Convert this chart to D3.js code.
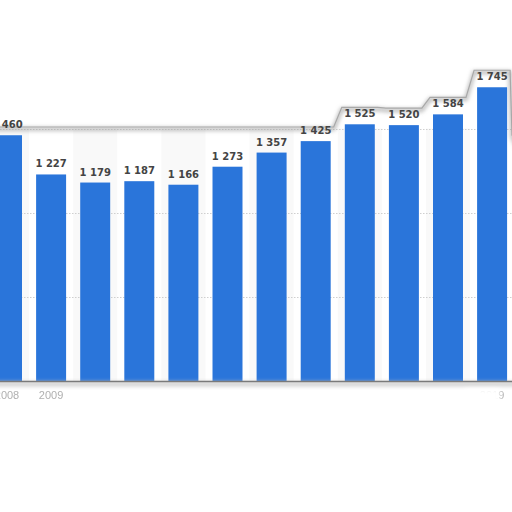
<!DOCTYPE html>
<html>
<head>
<meta charset="utf-8">
<script src="https://cdn.jsdelivr.net/npm/d3@7"></script>
<style>
  html, body { margin: 0; padding: 0; background: #ffffff; }
  svg { display: block; }
</style>
</head>
<body>
<svg id="graph" width="512" height="512"></svg>
<script>
const years = ["2008", "2009", "2010", "2011", "2012", "2013", "2014", "2015", "2016", "2017", "2018", "2019"];
const values = [1460, 1227, 1179, 1187, 1166, 1273, 1357, 1425, 1525, 1520, 1584, 1745];
const gridTicks = [500, 1000, 1500];
const shownYears = ["2008", "2009", "2019"];

const svg = d3.select("#graph");
const defs = svg.append("defs");

defs.append("filter")
    .attr("id", "soft")
    .attr("x", "-10%").attr("y", "-200%")
    .attr("width", "120%").attr("height", "500%")
    .append("feGaussianBlur")
    .attr("stdDeviation", 2);

defs.append("filter")
    .attr("id", "blurText")
    .append("feGaussianBlur")
    .attr("stdDeviation", 0.5);

const x = d3.scaleBand()
    .domain(years)
    .range([-22.1, 521.2])
    .padding(0.32);

const y = d3.scaleLinear()
    .domain([0, 1500])
    .range([381, 128.5]);

const fmt = function(v) { return d3.format(",")(v).replace(",", " "); };

// faint alternating column shading
svg.append("g")
    .selectAll("rect")
    .data(years.filter(function(d, i) { return i % 2 === 0; }))
    .join("rect")
    .attr("x", function(d) { return x(d) - x.step() * x.paddingInner() / 2; })
    .attr("y", y(1500))
    .attr("width", x.step())
    .attr("height", y(0) - y(1500))
    .style("fill", "#f9f9f9");

// dotted grid lines
svg.append("g")
    .selectAll("line")
    .data(gridTicks)
    .join("line")
    .attr("x1", 0)
    .attr("x2", 512)
    .attr("y1", function(d) { return Math.round(y(d)) + 0.5; })
    .attr("y2", function(d) { return Math.round(y(d)) + 0.5; })
    .style("stroke", "#cfcfcf")
    .style("stroke-dasharray", "1.5,1.5");

// card outline, lifted above the labels of the tallest bars
const edge = [[-10, 127]];
years.forEach(function(d, i) {
    const top = values[i] >= 1500 ? y(values[i]) - 17 : 127;
    edge.push([x(d) - 3, top]);
    edge.push([x(d) + x.bandwidth() + 3, top]);
});
edge.push([512, 135]);
edge.push([520, 150]);

const edgeLine = d3.line();

svg.append("path")
    .attr("d", edgeLine(edge))
    .attr("transform", "translate(0,2)")
    .attr("filter", "url(#soft)")
    .style("fill", "none")
    .style("stroke", "#9a9a9a")
    .style("stroke-width", 2.5);

svg.append("path")
    .attr("d", edgeLine(edge))
    .style("fill", "none")
    .style("stroke", "#a8a8a8")
    .style("stroke-width", 1.2);

// bars
svg.append("g")
    .selectAll("rect")
    .data(values)
    .join("rect")
    .attr("x", function(d, i) { return x(years[i]); })
    .attr("y", function(d) { return y(d); })
    .attr("width", x.bandwidth())
    .attr("height", function(d) { return y(0) - y(d); })
    .style("fill", "#2a75da");

// value labels
svg.append("g")
    .selectAll("text")
    .data(values)
    .join("text")
    .attr("x", function(d, i) { return x(years[i]) + x.bandwidth() / 2; })
    .attr("y", function(d) { return y(d) - 7; })
    .attr("text-anchor", "middle")
    .style("font-family", "DejaVu Sans, sans-serif")
    .style("font-weight", "bold")
    .style("font-size", "10px")
    .style("fill", "#444444")
    .text(function(d) { return fmt(d); });

// baseline with a smeared shadow below it
svg.append("rect")
    .attr("x", -10)
    .attr("y", y(0) + 1)
    .attr("width", 532)
    .attr("height", 4)
    .attr("filter", "url(#soft)")
    .style("fill", "#c8c8c8");

svg.append("line")
    .attr("x1", 0)
    .attr("x2", 512)
    .attr("y1", y(0) + 0.5)
    .attr("y2", y(0) + 0.5)
    .style("stroke", "#7a7a7a")
    .style("stroke-width", 1.5);

// x axis labels (faded)
const xAxis = d3.axisBottom(x)
    .tickValues(shownYears)
    .tickSize(0)
    .tickPadding(10);

const gx = svg.append("g")
    .attr("transform", "translate(0," + y(0) + ")")
    .call(xAxis);

gx.select(".domain").remove();
gx.selectAll("text")
    .attr("filter", "url(#blurText)")
    .style("font-family", "Liberation Sans, Arial, sans-serif")
    .style("font-size", "11px")
    .style("fill", "#b0b0b0");

// the last label is mostly washed out
svg.append("rect")
    .attr("x", x("2019") - 12)
    .attr("y", y(0) + 8)
    .attr("width", 35)
    .attr("height", 18)
    .attr("filter", "url(#soft)")
    .style("fill", "#ffffff");
</script>
</body>
</html>
